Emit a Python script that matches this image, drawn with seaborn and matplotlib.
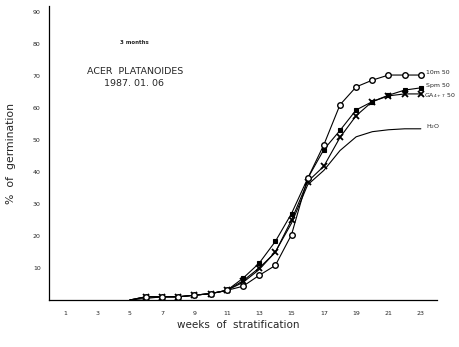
import numpy as np
import pandas as pd
import matplotlib
matplotlib.use("Agg")
import matplotlib.pyplot as plt
import seaborn as sns

weeks = [5, 6, 7, 8, 9, 10, 11, 12, 13, 14, 15, 16, 17, 18, 19, 20, 21, 22, 23]
gm_10m50 = [0, 1, 1, 1, 1.5, 2, 3, 4.3, 7.7, 10.8, 20.4, 38, 48.5, 61, 66.6, 68.7, 70.3, 70.3, 70.3]
spm_50 = [0, 1, 1, 1, 1.5, 2, 3, 6.8, 11.5, 18.3, 27, 38, 47, 53, 59.4, 62, 64, 65.6, 66.3]
ga47_50 = [0, 1, 1, 1, 1.5, 2, 3, 6, 10, 14.9, 25, 37, 41.8, 50.8, 57.6, 62, 63.8, 64.4, 64.4]
h2o = [0, 0.5, 1, 1, 1.5, 2, 3, 5.5, 9.5, 15, 24, 36, 40.5, 46.7, 51, 52.6, 53.2, 53.5, 53.5]

x_ticks = [1, 3, 5, 7, 9, 11, 13, 15, 17, 19, 21, 23]
y_ticks = [10, 20, 30, 40, 50, 60, 70, 80, 90]
series_labels = ["10m 50", "Spm 50", r"GA$_{4+7}$ 50", r"H$_2$O"]

df = pd.DataFrame({
    "week": weeks * 4,
    "germ": gm_10m50 + spm_50 + ga47_50 + h2o,
    "series": sum([[s] * len(weeks) for s in ["10m", "spm", "ga", "h2o"]], []),
})

sns.set_style("white")
plt.rcParams['font.family'] = ['DejaVu Sans']

fig = plt.figure(figsize=(4.59, 3.47), dpi=100)
ax = fig.add_axes([49 / 459, 1 - 300 / 347, (437 - 49) / 459, (300 - 5.6) / 347])

mk = list(range(1, len(weeks)))
styles = {
    "10m": dict(marker="o", markerfacecolor="white", markeredgecolor="black", markersize=4.0, markeredgewidth=1.0),
    "spm": dict(marker="s", markerfacecolor="black", markeredgecolor="black", markersize=3.0, markeredgewidth=0.8),
    "ga": dict(marker="x", markeredgecolor="black", markersize=4.2, markeredgewidth=1.3),
    "h2o": dict(marker=None),
}
for key in ["h2o", "ga", "spm", "10m"]:
    sub = df[df["series"] == key]
    kw = styles[key]
    if kw.get("marker"):
        sns.lineplot(data=sub, x="week", y="germ", ax=ax, color="black", linewidth=0.8,
                     markevery=mk, **kw)
    else:
        sns.lineplot(data=sub, x="week", y="germ", ax=ax, color="black", linewidth=0.8)

ax.set_xlim(0, 24)
ax.set_ylim(0, 92)
ax.set_xticks(x_ticks)
ax.set_xticklabels([str(t) for t in x_ticks], fontsize=4.5)
ax.set_yticks(y_ticks)
ax.set_yticklabels([str(t) for t in y_ticks], fontsize=4.5)
ax.set_xticks(range(0, 25), minor=True)
ax.set_yticks(range(0, 91, 5), minor=True)
ax.tick_params(axis="both", which="major", length=2, width=0.7, color="black", pad=4, direction="out")
ax.tick_params(axis="both", which="minor", length=1.2, width=0.5, color="black", direction="out")
ax.tick_params(axis="x", pad=6)
sns.despine(ax=ax)
for s in ["left", "bottom"]:
    ax.spines[s].set_linewidth(0.9)
    ax.spines[s].set_color("black")
ax.set_xlabel("")
ax.set_ylabel("")

def fx(px):
    return px / 459

def fy(py):
    return 1 - py / 347

fig.text(fx(134), fy(42), "3 months", fontsize=4, fontweight="bold", ha="center", va="center")
fig.text(fx(135), fy(71), "ACER  PLATANOIDES", fontsize=6.8, ha="center", va="center")
fig.text(fx(134), fy(83), "1987. 01. 06", fontsize=6.8, ha="center", va="center")
fig.text(fx(11), fy(154), "%  of  germination", fontsize=7.8, rotation=90, ha="center", va="center")
fig.text(fx(238), fy(325), "weeks  of  stratification", fontsize=7.5, ha="center", va="center")

lab_pos = [(426, 73), (426, 86), (424, 96), (426, 127)]
for (px, py), lab in zip(lab_pos, series_labels):
    fig.text(fx(px), fy(py), lab, fontsize=4.5, ha="left", va="center")

fig.savefig("out.png", dpi=100)
